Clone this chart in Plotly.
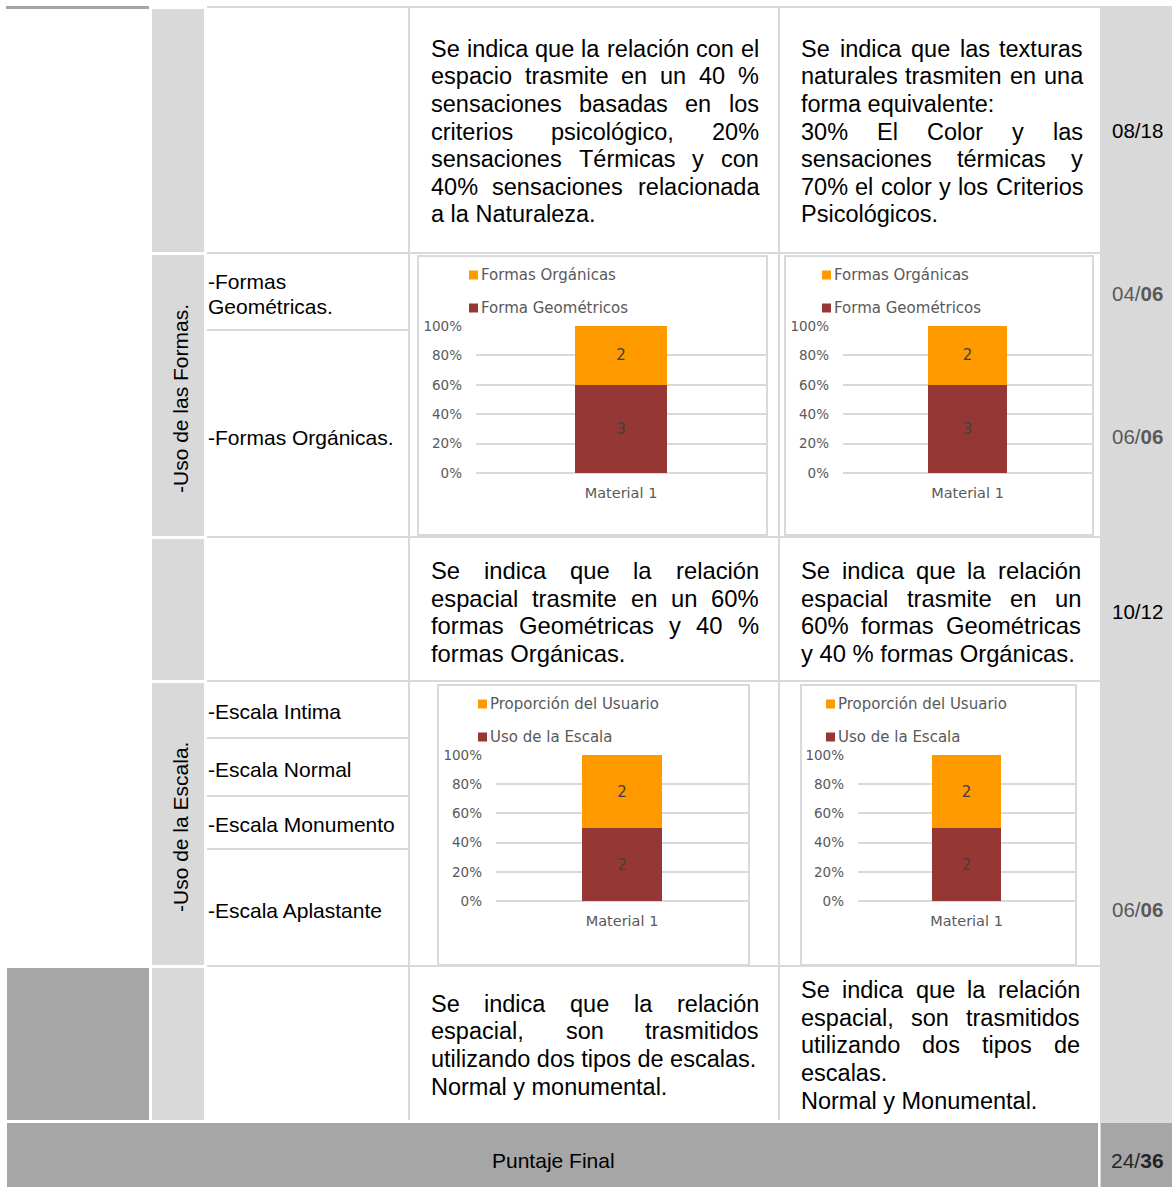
import plotly.graph_objects as go

W, H = 1172, 1187

# ---------------- chart data ----------------
categories = ["Material 1"]
pct_ticks = [0, 20, 40, 60, 80, 100]
pct_labels = [f"{v}%" for v in pct_ticks]

formas_series = ["Forma Geométricos", "Formas Orgánicas"]
formas_left = [3, 2]
formas_right = [3, 2]

escala_series = ["Uso de la Escala", "Proporción del Usuario"]
escala_left = [2, 2]
escala_right = [2, 2]

series_colors = ["#953735", "#FF9900"]

# ---------------- table text ----------------
row_labels_formas = ["-Formas", "Geométricas.", "-Formas Orgánicas."]
row_labels_escala = ["-Escala Intima", "-Escala Normal", "-Escala Monumento", "-Escala Aplastante"]
group_labels = ["-Uso de las Formas.", "-Uso de la Escala."]

texto_1a = [("Se indica que la relación con el", True),
            ("espacio trasmite en un 40 %", True),
            ("sensaciones basadas en los", True),
            ("criterios psicológico, 20%", True),
            ("sensaciones Térmicas y con", True),
            ("40% sensaciones relacionada", True),
            ("a la Naturaleza.", False)]
texto_1b = [("Se indica que las texturas", True),
            ("naturales trasmiten en una", True),
            ("forma equivalente:", False),
            ("30% El Color y las", True),
            ("sensaciones térmicas y", True),
            ("70% el color y los Criterios", True),
            ("Psicológicos.", False)]
texto_3a = [("Se indica que la relación", True),
            ("espacial trasmite en un 60%", True),
            ("formas Geométricas y 40 %", True),
            ("formas Orgánicas.", False)]
texto_3b = [("Se indica que la relación", True),
            ("espacial trasmite en un", True),
            ("60% formas Geométricas", True),
            ("y 40 % formas Orgánicas.", False)]
texto_5a = [("Se indica que la relación", True),
            ("espacial, son trasmitidos", True),
            ("utilizando dos tipos de escalas.", False),
            ("Normal y monumental.", False)]
texto_5b = [("Se indica que la relación", True),
            ("espacial, son trasmitidos", True),
            ("utilizando dos tipos de", True),
            ("escalas.", False),
            ("Normal y Monumental.", False)]

score_labels = ["08/18", "04/<b>06</b>", "06/<b>06</b>", "10/12", "06/<b>06</b>"]
final_label = "Puntaje Final"
final_score = "24/<b>36</b>"

# ---------------- styling ----------------
DARK = "#a6a6a6"
LIGHT = "#d9d9d9"
GRID = "#d9d9d9"
CHART_TXT = "#595959"
TXT_FONT = "Liberation Sans, Arial, sans-serif"
CHART_FONT = "DejaVu Sans, sans-serif"

# Arial / Liberation Sans advance widths (1/1000 em), used to justify lines
AW = {" ": 278, "%": 889, ",": 278, "-": 333, ".": 278, "/": 278, ":": 278}
AW.update({d: 556 for d in "0123456789"})
AW.update(dict(zip("ABCDEFGHIJKLMNOPQRSTUVWXYZ",
                   [667, 667, 722, 722, 667, 611, 778, 722, 278, 500, 667, 556, 833,
                    722, 778, 667, 778, 722, 667, 611, 722, 667, 944, 667, 667, 611])))
AW.update(dict(zip("abcdefghijklmnopqrstuvwxyz",
                   [556, 556, 500, 556, 556, 278, 556, 556, 222, 222, 500, 222, 833,
                    556, 556, 556, 556, 333, 500, 278, 556, 500, 722, 500, 500, 500])))
AW.update({"á": 556, "é": 556, "í": 278, "ó": 556, "ú": 556, "ñ": 556, "É": 667})

# vertical placement: the drawing area shows up 8 px below the page top
# and 1171 px tall, so table rows are laid out against that band
TOP, SPAN = 8, 1171


def px(x):
    return x / W


def py(y):
    return 1 - (y - TOP) / SPAN


shapes = []
annots = []


def block(x0, y0, x1, y1, fill):
    shapes.append(dict(type="rect", xref="paper", yref="paper", layer="below",
                       x0=px(x0), x1=px(x1), y0=py(y1), y1=py(y0),
                       fillcolor=fill, line=dict(width=0)))


def frame(x0, y0, x1, y1):
    shapes.append(dict(type="rect", xref="paper", yref="paper", layer="below",
                       x0=px(x0), x1=px(x1), y0=py(y1), y1=py(y0),
                       fillcolor="rgba(0,0,0,0)", line=dict(color=LIGHT, width=2)))


def label(text, x, y, size, family=TXT_FONT, color="#000000", anchor="left", angle=0):
    annots.append(dict(text=text, x=px(x), y=py(y), xref="paper", yref="paper",
                       xanchor=anchor, yanchor="middle", showarrow=False,
                       textangle=angle, borderpad=0, borderwidth=0,
                       font=dict(family=family, size=size, color=color)))


def text_width(s, size):
    return sum(AW.get(c, 556) for c in s) * size / 1000.0


def paragraph(lines, x0, x1, ys, size):
    """Place lines of a justified paragraph word by word."""
    for (line, justify), y in zip(lines, ys):
        words = line.split(" ")
        if justify and len(words) > 1:
            widths = [text_width(w, size) for w in words]
            gap = (x1 - x0 - sum(widths)) / (len(words) - 1)
            x = x0
            for w, wd in zip(words, widths):
                label(w, x, y, size)
                x += wd + gap
        else:
            label(line, x0, y, size)


# ---------------- table background ----------------
block(6, 6, 149, 9, DARK)
block(7, 968, 149, 1120, DARK)
block(1100, 6, 1172, 1190, LIGHT)
block(7, 1123, 1098, 1190, DARK)
block(1101, 1123, 1172, 1190, DARK)
for y0, y1 in [(9, 252), (255, 536), (539, 680), (683, 965), (968, 1120)]:
    block(152, y0, 204, y1, LIGHT)

# horizontal rules across the description columns
for y in [6, 252, 536, 680, 965]:
    block(207, y, 1100, y + 2, LIGHT)
# rules between the item labels
for y in [329, 737, 795, 848]:
    block(207, y, 408, y + 2, LIGHT)
# vertical rules
for x in [408, 778]:
    block(x, 6, x + 2, 1120, LIGHT)

# ---------------- table text ----------------
label(group_labels[0], 180, 399, 21, angle=-90, anchor="center")
label(group_labels[1], 180, 827, 21, angle=-90, anchor="center")
for txt, y in zip(row_labels_formas, [282, 306, 437]):
    label(txt, 208, y, 21)
for txt, y in zip(row_labels_escala, [712, 769, 824, 910]):
    label(txt, 208, y, 21)

row1_y = [49, 76, 104, 132, 159, 187, 214]
paragraph(texto_1a, 431, 759, row1_y, 23.5)
paragraph(texto_1b, 801, 1083, row1_y, 23.5)
row3_y = [570, 598, 625, 653]
paragraph(texto_3a, 431, 759, row3_y, 23.8)
paragraph(texto_3b, 801, 1081, row3_y, 23.8)
paragraph(texto_5a, 431, 759, [1004, 1031, 1059, 1087], 23.5)
paragraph(texto_5b, 801, 1080, [990, 1018, 1045, 1073, 1101], 23.5)

score_y = [131, 294, 436, 611, 909]
score_col = ["#000000", "#595959", "#595959", "#000000", "#595959"]
for txt, y, col in zip(score_labels, score_y, score_col):
    label(txt, 1137, y, 20.5, color=col, anchor="center")
label(final_label, 553, 1160, 21, anchor="center")
label(final_score, 1137, 1160, 21, color="#262626", anchor="center")

# ---------------- stacked 100% bar panels ----------------
panels = [
    dict(series=formas_series, values=formas_left, box=(418, 256, 767, 535),
         area=(476, 326, 766, 473), leg_x=469, leg_y=(308, 275)),
    dict(series=formas_series, values=formas_right, box=(785, 256, 1093, 535),
         area=(843, 326, 1092, 473), leg_x=822, leg_y=(308, 275)),
    dict(series=escala_series, values=escala_left, box=(438, 685, 749, 965),
         area=(496, 755, 748, 901), leg_x=478, leg_y=(737, 704)),
    dict(series=escala_series, values=escala_right, box=(801, 685, 1076, 965),
         area=(858, 755, 1075, 901), leg_x=826, leg_y=(737, 704)),
]

fig = go.Figure()
axes = {}
for k, p in enumerate(panels, start=1):
    sfx = "" if k == 1 else str(k)
    for name, val, color in zip(p["series"], p["values"], series_colors):
        fig.add_trace(go.Bar(
            x=categories, y=[val], name=name, text=[str(val)],
            marker=dict(color=color, line=dict(width=0)),
            textposition="inside", insidetextanchor="middle", textangle=0,
            textfont=dict(family=CHART_FONT, size=15, color="#404040"),
            xaxis="x" + sfx, yaxis="y" + sfx, showlegend=False, hoverinfo="skip"))
    frame(*p["box"])
    x0, y0, x1, y1 = p["area"]
    axes["xaxis" + sfx] = dict(domain=[px(x0), px(x1)], anchor="y" + sfx,
                               type="category", range=[-0.5, 0.5],
                               showgrid=False, showline=False, zeroline=False, ticks="",
                               ticklabelstandoff=9,
                               tickfont=dict(family=CHART_FONT, size=14.5, color=CHART_TXT),
                               fixedrange=True)
    axes["yaxis" + sfx] = dict(domain=[py(y1), py(y0)], anchor="x" + sfx,
                               range=[0, 100], tickmode="array",
                               tickvals=pct_ticks, ticktext=pct_labels,
                               showgrid=True, gridcolor=GRID, gridwidth=1.5,
                               zeroline=True, zerolinecolor=GRID, zerolinewidth=1.5,
                               showline=False, ticks="", ticklabelstandoff=13,
                               tickfont=dict(family=CHART_FONT, size=13.5, color=CHART_TXT),
                               fixedrange=True)
    # legend: swatch + series name, topmost entry is the upper stack segment
    for name, color, ly in zip(p["series"], series_colors, p["leg_y"]):
        block(p["leg_x"], ly - 4.5, p["leg_x"] + 9, ly + 4.5, color)
        label(name, p["leg_x"] + 12, ly, 15, family=CHART_FONT, color=CHART_TXT)

fig.update_layout(
    width=W, height=H, margin=dict(l=0, r=0, t=0, b=0),
    paper_bgcolor="#ffffff", plot_bgcolor="rgba(0,0,0,0)",
    barmode="stack", barnorm="percent", bargap=0.683,
    showlegend=False, shapes=shapes, annotations=annots,
    **axes,
)

fig.write_html("out.html")
